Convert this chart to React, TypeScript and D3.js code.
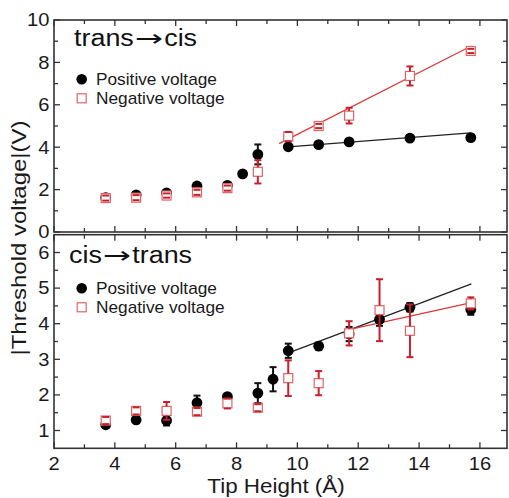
import React from "react";
import * as d3 from "d3";

// ---- data ----
const topPosX = [3.7, 4.7, 5.7, 6.7, 7.7, 8.2, 8.7, 9.7, 10.7, 11.7, 13.7, 15.7];
const topPosY = [1.62, 1.75, 1.85, 2.17, 2.2, 2.74, 3.66, 4.02, 4.12, 4.25, 4.43, 4.45];
const topPosErr = [0.08, 0.08, 0.1, 0.1, 0.08, 0.12, 0.47, 0.08, 0.08, 0.08, 0.08, 0.1];
const topNegX = [3.7, 4.7, 5.7, 6.7, 7.7, 8.7, 9.7, 10.7, 11.7, 13.7, 15.7];
const topNegY = [1.6, 1.62, 1.72, 1.87, 2.07, 2.84, 4.5, 5.0, 5.49, 7.36, 8.54];
const topNegErr = [0.12, 0.12, 0.1, 0.12, 0.12, 0.55, 0.22, 0.1, 0.37, 0.45, 0.1];
const topPosFitX = [9.7, 15.7];
const topPosFitY = [4.02, 4.68];
const topNegFitX = [9.4, 15.7];
const topNegFitY = [4.17, 8.76];

const botPosX = [3.7, 4.7, 5.7, 6.7, 7.7, 8.7, 9.2, 9.7, 10.7, 11.7, 12.7, 13.7, 15.7];
const botPosY = [1.16, 1.3, 1.28, 1.78, 1.95, 2.05, 2.44, 3.24, 3.37, 3.71, 4.12, 4.46, 4.4];
const botPosErr = [0.07, 0.05, 0.14, 0.2, 0.07, 0.28, 0.34, 0.2, 0.1, 0.2, 0.18, 0.12, 0.15];
const botNegX = [3.7, 4.7, 5.7, 6.7, 7.7, 8.7, 9.7, 10.7, 11.7, 12.7, 13.7, 15.7];
const botNegY = [1.28, 1.55, 1.55, 1.53, 1.76, 1.64, 2.47, 2.33, 3.73, 4.38, 3.8, 4.57];
const botNegErr = [0.1, 0.1, 0.25, 0.1, 0.14, 0.1, 0.5, 0.34, 0.34, 0.87, 0.74, 0.17];
const botPosFitX = [9.73, 15.72];
const botPosFitY = [3.19, 5.12];
const botNegFitX = [11.62, 15.72];
const botNegFitY = [3.82, 4.59];

const xMajor = [2, 4, 6, 8, 10, 12, 14, 16];
const xMinor = [3, 5, 7, 9, 11, 13, 15];
const topMajor = [0, 2, 4, 6, 8, 10];
const topMinor = [1, 3, 5, 7, 9];
const botMajor = [1, 2, 3, 4, 5, 6];
const botMinor = [1.5, 2.5, 3.5, 4.5, 5.5];

const titleParts = [["trans", "\u2192", "cis"], ["cis", "\u2192", "trans"]];
const legendLabels = ["Positive voltage", "Negative voltage"];
const xLabel = "Tip Height (\u00c5)";
const yLabel = "|Threshold voltage|(V)";

const FONT = "Liberation Sans, Arial, sans-serif";
const RED = "#c8202c";
const RED_LIGHT = "#e06464";
const RED_LINE = "#d83a3a";
const AXIS = "#333";
const TXT = "#1a1a1a";

const L = 54, R = 507;
const x = d3.scaleLinear().domain([2, 16.89]).range([L, R]);

function T(props: { x: number; y: number; size: number; sx?: number; anchor?: string; dy?: string; rotate?: number; children: React.ReactNode }) {
  const sx = props.sx ?? 1.15;
  const rot = props.rotate ? ` rotate(${props.rotate})` : "";
  return (
    <text transform={`translate(${props.x},${props.y})${rot} scale(${sx},1)`} dy={props.dy}
      textAnchor={props.anchor || "start"} fontSize={props.size} fontFamily={FONT} fill={TXT}>
      {props.children}
    </text>
  );
}

type PanelProps = {
  y: d3.ScaleLinear<number, number>;
  major: number[];
  minor: number[];
  posX: number[]; posY: number[]; posErr: number[];
  negX: number[]; negY: number[]; negErr: number[];
  posFitX: number[]; posFitY: number[];
  negFitX: number[]; negFitY: number[];
  title: string[];
  titleX: number;
  titleY: number;
  legendY: number;
  showXLabels: boolean;
};

function Panel(p: PanelProps) {
  const [y0, y1] = p.y.range();
  const top = Math.min(y0, y1), bot = Math.max(y0, y1);
  const line = d3.line<[number, number]>().x(d => x(d[0])).y(d => p.y(d[1]));
  const posFit = line(p.posFitX.map((v, i) => [v, p.posFitY[i]] as [number, number]));
  const negFit = line(p.negFitX.map((v, i) => [v, p.negFitY[i]] as [number, number]));
  const cap = 3.5;
  const hs = 4.5;
  return (
    <g>
      <path d={posFit || ""} stroke="#222" strokeWidth={1.3} fill="none" />
      <path d={negFit || ""} stroke={RED_LINE} strokeWidth={1.3} fill="none" />
      {p.posX.map((v, i) => {
        const cx = x(v), cy = p.y(p.posY[i]);
        const ya = p.y(p.posY[i] + p.posErr[i]), yb = p.y(p.posY[i] - p.posErr[i]);
        return (
          <g key={"p" + i}>
            <line x1={cx} x2={cx} y1={ya} y2={yb} stroke="#111" strokeWidth={2} />
            <line x1={cx - cap} x2={cx + cap} y1={ya} y2={ya} stroke="#111" strokeWidth={2} />
            <line x1={cx - cap} x2={cx + cap} y1={yb} y2={yb} stroke="#111" strokeWidth={2} />
            <circle cx={cx} cy={cy} r={5.4} fill="#000" />
          </g>
        );
      })}
      {p.negX.map((v, i) => {
        const cx = x(v), cy = p.y(p.negY[i]);
        const ya = p.y(p.negY[i] + p.negErr[i]), yb = p.y(p.negY[i] - p.negErr[i]);
        return (
          <g key={"n" + i}>
            <rect x={cx - hs} y={cy - hs} width={2 * hs} height={2 * hs} fill="#fff" stroke={RED_LIGHT} strokeWidth={1.2} />
            {ya < cy - hs && <line x1={cx} x2={cx} y1={ya} y2={cy - hs} stroke={RED} strokeWidth={2} />}
            {yb > cy + hs && <line x1={cx} x2={cx} y1={cy + hs} y2={yb} stroke={RED} strokeWidth={2} />}
            <line x1={cx - cap} x2={cx + cap} y1={ya} y2={ya} stroke={RED} strokeWidth={2} />
            <line x1={cx - cap} x2={cx + cap} y1={yb} y2={yb} stroke={RED} strokeWidth={2} />
          </g>
        );
      })}
      <rect x={L} y={top} width={R - L} height={bot - top} fill="none" stroke={AXIS} strokeWidth={1.6} />
      {xMajor.concat(xMinor).map((v, i) => {
        const len = xMajor.includes(v) ? 6 : 4;
        return (
          <g key={"xt" + i}>
            <line x1={x(v)} x2={x(v)} y1={bot} y2={bot - len} stroke={AXIS} strokeWidth={1.3} />
            <line x1={x(v)} x2={x(v)} y1={top} y2={top + len} stroke={AXIS} strokeWidth={1.3} />
          </g>
        );
      })}
      {p.major.concat(p.minor).map((v, i) => {
        const len = p.major.includes(v) ? 6 : 4;
        return (
          <g key={"yt" + i}>
            <line x1={L} x2={L + len} y1={p.y(v)} y2={p.y(v)} stroke={AXIS} strokeWidth={1.3} />
            <line x1={R} x2={R - len} y1={p.y(v)} y2={p.y(v)} stroke={AXIS} strokeWidth={1.3} />
          </g>
        );
      })}
      {p.major.map((v, i) => (
        <T key={"yl" + i} x={L - 4.5} y={p.y(v)} dy="0.36em" anchor="end" size={17.5}>{v}</T>
      ))}
      {p.showXLabels && xMajor.map((v, i) => (
        <T key={"xl" + i} x={x(v)} y={bot + 15} dy="0.36em" anchor="middle" size={17.5}>{v}</T>
      ))}
      <text transform={`translate(${p.titleX},${p.titleY}) scale(1.17,1)`} fontSize={23} fontFamily={FONT} fill="#111">
        <tspan>{p.title[0]}</tspan>
        <tspan fontFamily="DejaVu Sans" textLength={24} lengthAdjust="spacingAndGlyphs" dx={1}>{p.title[1]}</tspan>
        <tspan dx={1}>{p.title[2]}</tspan>
      </text>
      <circle cx={81.7} cy={p.legendY} r={5.3} fill="#000" />
      <T x={96} y={p.legendY} dy="0.36em" size={16} sx={1.08}>{legendLabels[0]}</T>
      <rect x={81.7 - hs} y={p.legendY + 19 - hs} width={2 * hs} height={2 * hs} fill="none" stroke={RED_LIGHT} strokeWidth={1.2} />
      <T x={96} y={p.legendY + 19} dy="0.36em" size={16} sx={1.08}>{legendLabels[1]}</T>
    </g>
  );
}

export default function App() {
  const yTop = d3.scaleLinear().domain([0, 10]).range([232, 20]);
  const yBot = d3.scaleLinear().domain([0.5, 6.5]).range([448.3, 234.7]);
  return (
    <svg width={509} height={498} style={{ position: "absolute", left: 0, top: 0, background: "#fff" }}>
      <Panel y={yTop} major={topMajor} minor={topMinor}
        posX={topPosX} posY={topPosY} posErr={topPosErr}
        negX={topNegX} negY={topNegY} negErr={topNegErr}
        posFitX={topPosFitX} posFitY={topPosFitY} negFitX={topNegFitX} negFitY={topNegFitY}
        title={titleParts[0]} titleX={74} titleY={46} legendY={79.3} showXLabels={false} />
      <Panel y={yBot} major={botMajor} minor={botMinor}
        posX={botPosX} posY={botPosY} posErr={botPosErr}
        negX={botNegX} negY={botNegY} negErr={botNegErr}
        posFitX={botPosFitX} posFitY={botPosFitY} negFitX={botNegFitX} negFitY={botNegFitY}
        title={titleParts[1]} titleX={69} titleY={263} legendY={288.3} showXLabels={true} />
      <T x={276} y={493} anchor="middle" size={19.5} sx={1.15}>{xLabel}</T>
      <T x={26} y={238} anchor="middle" size={20} sx={1.2} rotate={-90}>{yLabel}</T>
    </svg>
  );
}
